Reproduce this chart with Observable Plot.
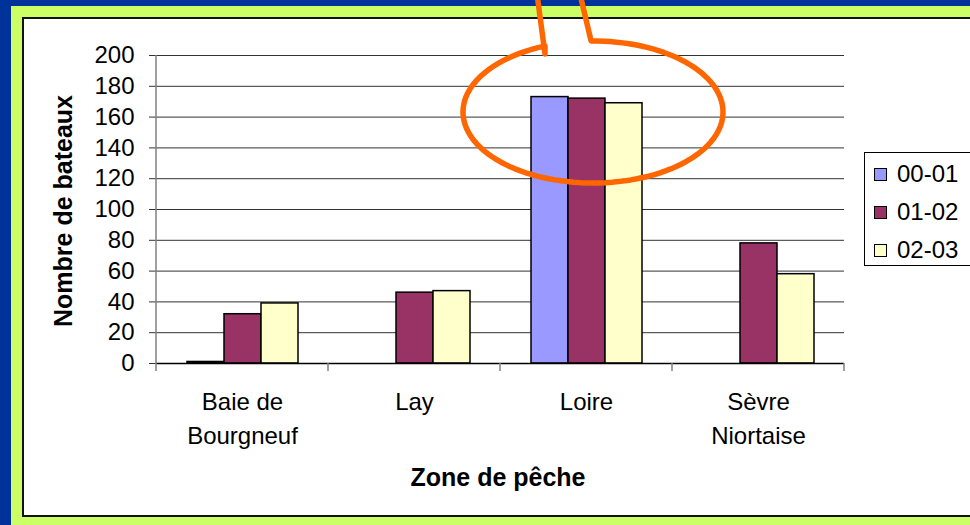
<!DOCTYPE html>
<html><head><meta charset="utf-8">
<script src="https://cdn.jsdelivr.net/npm/d3@7"></script>
<script src="https://cdn.jsdelivr.net/npm/@observablehq/plot@0.6"></script>
<style>
body{margin:0;background:#003399;width:970px;height:525px;overflow:hidden;position:relative;font-family:"Liberation Sans",Arial,sans-serif}
#green{position:absolute;left:11px;top:6px;width:980px;height:540px;background:#ccff66}
#white{position:absolute;left:22px;top:17px;width:980px;height:496px;background:#fff;border:2px solid #111}
#chart{position:absolute;left:0;top:0}
#legend{position:absolute;left:864px;top:152px;width:130px;height:112px;border:1px solid #000;background:#fff}
.item{position:absolute;left:9px;height:26px;display:flex;align-items:center;font-size:24px;color:#000}
.sw{width:13px;height:13px;border:1px solid #000;margin-right:10px;box-sizing:border-box}
#ytitle{position:absolute;left:63px;top:211px;transform:translate(-50%,-50%) rotate(-90deg);font-weight:bold;font-size:25px;white-space:nowrap}
#xtitle{position:absolute;left:498px;top:477px;transform:translate(-50%,-50%);font-weight:bold;font-size:25px;white-space:nowrap}
</style></head>
<body>
<div id="green"></div>
<div id="white"></div>
<div id="ytitle">Nombre de bateaux</div>
<div id="xtitle">Zone de pêche</div>
<div id="chart"></div>
<div id="legend"></div>
<script>
const zones = ["Baie de Bourgneuf", "Lay", "Loire", "Sèvre Niortaise"];
const zoneLabels = ["Baie de\nBourgneuf", "Lay", "Loire", "Sèvre\nNiortaise"];
const seasons = ["00-01", "01-02", "02-03"];
const v0001 = [1, null, 173, null];
const v0102 = [32, 46, 172, 78];
const v0203 = [39, 47, 169, 58];
const colors = ["#9999ff", "#993366", "#ffffcc"];
const yTicks = [0, 20, 40, 60, 80, 100, 120, 140, 160, 180, 200];

const series = [v0001, v0102, v0203];
const data = [];
zones.forEach((z, i) => series.forEach((arr, j) => {
  if (arr[i] != null) data.push({zone: z, season: seasons[j], value: arr[i]});
}));

const plot = Plot.plot({
  width: 970, height: 525,
  marginLeft: 155, marginRight: 125, marginTop: 55, marginBottom: 162,
  style: {background: "transparent", overflow: "visible", fontFamily: "Liberation Sans, Arial, sans-serif", fontSize: "24px", color: "#000"},
  fx: {domain: zones, padding: 0, label: null},
  x: {domain: seasons, paddingInner: 0, paddingOuter: 0.77, axis: null},
  y: {domain: [0, 200], label: null},
  color: {domain: seasons, range: colors},
  marks: [
    Plot.gridY(yTicks, {stroke: "#333", strokeOpacity: 1, strokeWidth: 1}),
    Plot.axisY(yTicks, {tickSize: 7, tickPadding: 15, fontSize: 24, label: null, stroke: "#333"}),
    Plot.barY(data, {fx: "zone", x: "season", y: "value", fill: "season", stroke: "#000", strokeWidth: 1.5}),
    Plot.ruleY([0], {stroke: "#000", strokeWidth: 1.5}),
    Plot.axisFx({anchor: "bottom", tickSize: 0, tickPadding: 22, fontSize: 24, lineHeight: 1.42,
      tickFormat: d => zoneLabels[zones.indexOf(d)], label: null})
  ]
});
document.getElementById("chart").appendChild(plot);

// decorations derived from scales
const fx = plot.scale("fx"), y = plot.scale("y");
const svg = d3.select(plot);
const y0 = y.apply(0), yTop = y.apply(200);
const x0 = fx.apply(zones[0]);
const g = svg.append("g").attr("stroke", "#808080").attr("stroke-width", 1.5);
g.append("line").attr("x1", x0).attr("x2", x0).attr("y1", yTop).attr("y2", y0 + 8);
zones.forEach((z, i) => {
  const xs = fx.apply(z) + fx.bandwidth;
  g.append("line").attr("x1", xs).attr("x2", xs).attr("y1", y0).attr("y2", y0 + 8);
});

// orange callout ellipse around Loire
const cx = fx.apply("Loire") + fx.bandwidth / 2 + 7;
const cy = y.apply(163);
const rx = 130, ry = 71;
const tStart = Math.PI * 1.5 - 0.015;            // right tail attachment (near top)
const tEnd = Math.PI + Math.acos(48 / rx) + 2 * Math.PI; // left tail attachment
const pts = [[cx - 56, -6]];
pts.push([cx - 48, cy - 58]);
// go backwards from left attach around to top-right attach
const N = 120;
for (let k = 0; k <= N; k++) {
  const t = (Math.PI + Math.acos(48 / rx)) - k / N * ((Math.PI + Math.acos(48 / rx)) - (tStart - 2 * Math.PI));
  pts.push([cx + rx * Math.cos(t), cy + ry * Math.sin(t)]);
}
pts.push([cx - 13, -6]);
svg.append("path")
  .attr("d", d3.line()(pts))
  .attr("fill", "none").attr("stroke", "#ff6600").attr("stroke-width", 5.5)
  .attr("stroke-linejoin", "round");

// legend
const leg = document.getElementById("legend");
seasons.forEach((s, i) => {
  const it = document.createElement("div");
  it.className = "item";
  it.style.top = (21 + 38 * i - 13) + "px";
  const sw = document.createElement("div");
  sw.className = "sw";
  sw.style.background = colors[i];
  it.appendChild(sw);
  it.appendChild(document.createTextNode(s));
  leg.appendChild(it);
});
</script>
</body></html>
